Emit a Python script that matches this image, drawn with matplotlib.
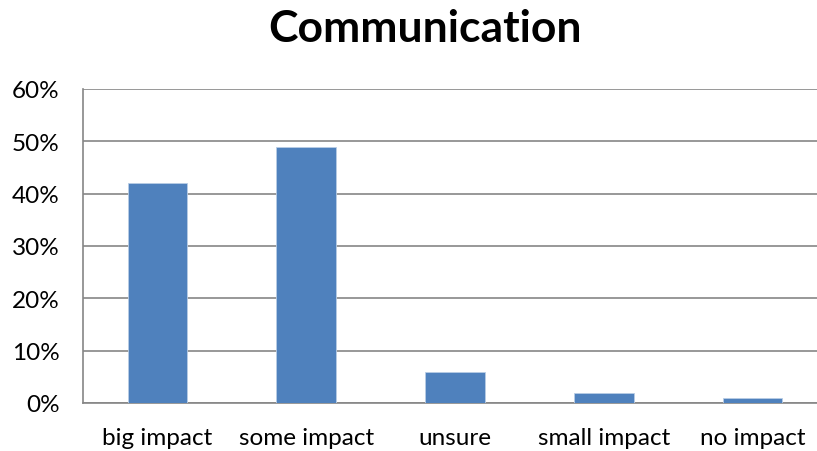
import matplotlib.pyplot as plt
from matplotlib.ticker import PercentFormatter

categories = ['big impact', 'some impact', 'unsure', 'small impact', 'no impact']
shares = [0.42, 0.49, 0.06, 0.02, 0.01]
y_ticks = [0, 0.1, 0.2, 0.3, 0.4, 0.5, 0.6]

plt.rcParams['font.family'] = ['Lato', 'DejaVu Sans']

fig = plt.figure(figsize=(8.17, 4.52), dpi=100)
# plot area runs slightly past the right edge of the canvas
ax = fig.add_axes([83 / 817, 1 - 404 / 452, 744 / 817, 314 / 452])

x = range(len(categories))
ax.bar(x, shares, width=0.40, color='#4F81BD', edgecolor='#B9CDE5', linewidth=0.6, zorder=3)

ax.set_xlim(-0.5, len(categories) - 0.5)
ax.set_ylim(0, 0.6)
ax.set_yticks(y_ticks)
ax.yaxis.set_major_formatter(PercentFormatter(1.0, decimals=0))
ax.set_xticks(list(x))
ax.set_xticklabels(categories)
ax.grid(axis='y', color='#868686', linewidth=1.2, zorder=0)

for side in ['top', 'right']:
    ax.spines[side].set_visible(False)
for side in ['left', 'bottom']:
    ax.spines[side].set_color('#868686')
    ax.spines[side].set_linewidth(1.2)

ax.tick_params(axis='both', length=0, labelsize=17.5, colors='black')
ax.tick_params(axis='x', pad=17)
ax.tick_params(axis='y', pad=17)

fig.text(425 / 817, 1 - 29 / 452, 'Communication', fontsize=32, fontweight='bold',
         ha='center', va='center')

fig.savefig('out.png', dpi=100)
